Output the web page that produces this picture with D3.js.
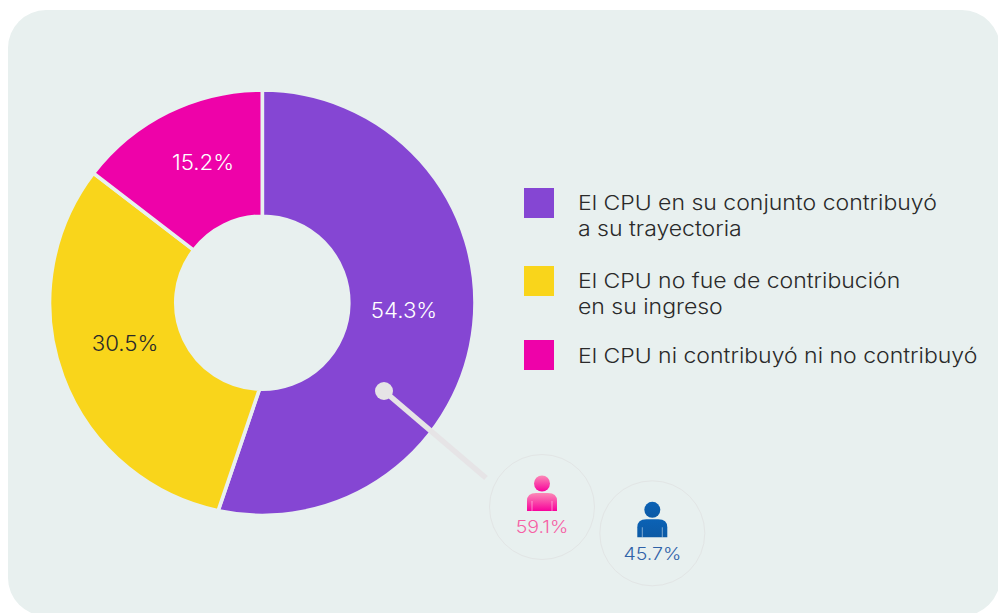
<!DOCTYPE html>
<html><head><meta charset="utf-8">
<script src="https://cdn.jsdelivr.net/npm/d3@7"></script>
<style>html,body{margin:0;padding:0;background:#fff}svg{display:block}
text{font-family:Inter,"Open Sans",sans-serif;font-weight:300}</style></head><body>
<svg id="c" width="998" height="613"></svg>
<script>
const categories = [["El CPU en su conjunto contribuyó","a su trayectoria"],["El CPU no fue de contribución","en su ingreso"],["El CPU ni contribuyó ni no contribuyó"]];
const shares = [54.3,30.5,15.2];
const sliceColors = ["#8546d3","#f9d51b","#ee02a9"];
const labelColors = ["#ffffff","#2a2a2a","#ffffff"];
const personValues = ["59.1%","45.7%"];
const personColors = ["#f65fa5","#2f62a8"];

const bg="#e8f0ef";
const svg = d3.select("#c");
svg.append("rect").attr("x",8).attr("y",10).attr("width",992).attr("height",606).attr("rx",38).attr("fill",bg);
const cx=262.3, cy=302.7, R=212.7, r=86.5;
const g = svg.append("g").attr("transform",`translate(${cx},${cy})`);
const deg=Math.PI/180;
// In the reference the slice boundaries sit slightly off the true pie angles;
// the yellow/purple one is also slanted (not radial).
const outerShift=[-3.5*deg,2.2*deg], innerShift=[-13.6*deg,2.2*deg];
const arcs = d3.pie().sort(null).value(d=>d)(shares);
function slicePath(d,i){
  const os=i===0?0:outerShift[i-1], oe=i===2?0:outerShift[i];
  const is=i===0?0:innerShift[i-1], ie=i===2?0:innerShift[i];
  const p=d3.path(), off=-Math.PI/2;
  p.arc(0,0,R,d.startAngle+os+off,d.endAngle+oe+off,false);
  p.arc(0,0,r,d.endAngle+ie+off,d.startAngle+is+off,true);
  p.closePath();
  return p.toString();
}
g.selectAll("path").data(arcs).join("path").attr("d",slicePath).attr("fill",(d,i)=>sliceColors[i]).attr("stroke",bg).attr("stroke-width",3.6);
const labelPos=[[404,311],[125,344],[203,163]];
svg.selectAll(".v").data(shares).join("text").attr("class","v")
 .attr("transform",(d,i)=>`translate(${labelPos[i][0]},${labelPos[i][1]}) scale(1.06,1)`).attr("dy","0.35em").attr("text-anchor","middle")
 .attr("font-size",21).attr("fill",(d,i)=>labelColors[i]).text(d=>d.toFixed(1)+"%");
// legend
const ys=[188,266,340], lh=[[202.5,228.5],[281,307],[355.5]];
categories.forEach((c,i)=>{
 svg.append("rect").attr("x",524).attr("y",ys[i]).attr("width",30).attr("height",30).attr("fill",sliceColors[i]);
 c.forEach((t,j)=>svg.append("text").attr("transform",`translate(578,${lh[i][j]}) scale(1.123,1)`).attr("dy","0.35em").attr("font-size",20.5).attr("fill","#2a2a2a").text(t));
});
// leader
svg.append("line").attr("x1",384).attr("y1",391).attr("x2",486).attr("y2",478).attr("stroke","#e6e4e6").attr("stroke-width",5.5);
svg.append("circle").attr("cx",384).attr("cy",391).attr("r",9).attr("fill","#e6e4e6");
// persons
const defs=svg.append("defs");
[["p0","#fb8ab6","#f8029c"],["p1","#0b62b5","#0c5aa5"]].forEach(a=>{
 const lg=defs.append("linearGradient").attr("id",a[0]).attr("x1",0).attr("x2",0).attr("y1",0).attr("y2",1);
 lg.append("stop").attr("offset",0).attr("stop-color",a[1]);lg.append("stop").attr("offset",1).attr("stop-color",a[2]);
});
[[542,507],[652.3,533.3]].forEach((p,i)=>{
 const G=svg.append("g").attr("transform",`translate(${p[0]},${p[1]})`);
 G.append("circle").attr("r",52.5).attr("fill","none").attr("stroke","#e2e5e5").attr("stroke-width",1);
 G.append("circle").attr("cy",-23.5).attr("r",8).attr("fill",`url(#p${i})`);
 G.append("path").attr("d","M-15,4V-6Q-15,-14,-6,-14H6Q15,-14,15,-6V4Z").attr("fill",`url(#p${i})`);
 G.selectAll(".s").data([-10,10]).join("line").attr("x1",d=>d).attr("x2",d=>d).attr("y1",-6).attr("y2",4).attr("stroke","#ffffff").attr("stroke-opacity",0.6).attr("stroke-width",0.8);
 G.append("text").attr("transform","translate(0,20.5) scale(1.15,1)").attr("dy","0.35em").attr("text-anchor","middle").attr("font-size",17).attr("fill",personColors[i]).text(personValues[i]);
});
</script></body></html>
